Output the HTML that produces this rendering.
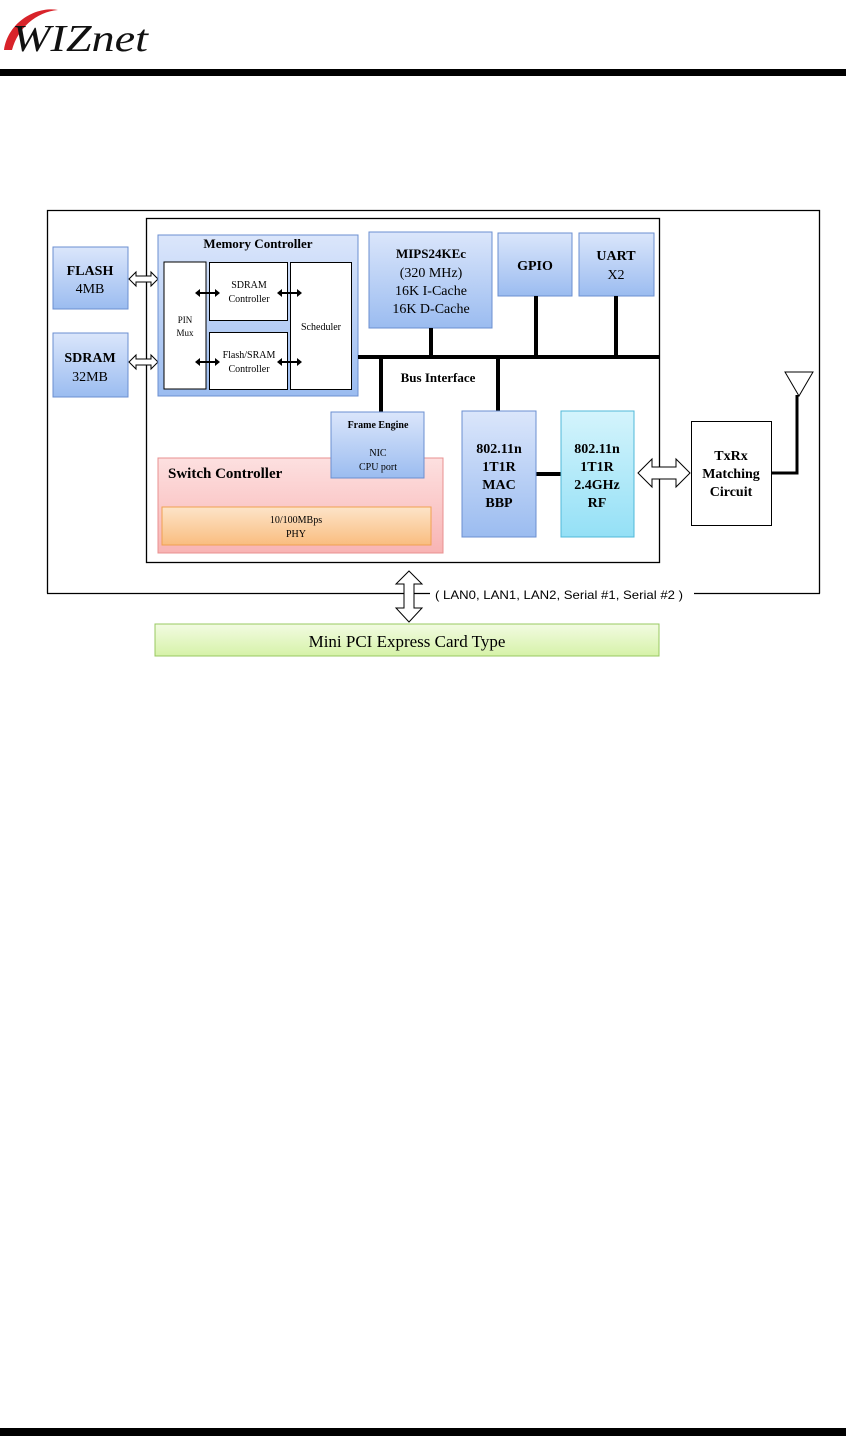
<!DOCTYPE html>
<html><head><style>
body{margin:0;background:#fff;}
svg{display:block;}
text{font-family:"Liberation Serif",serif;}
</style></head><body>
<svg width="846" height="1436" viewBox="0 0 846 1436" xmlns="http://www.w3.org/2000/svg">
<defs>
<linearGradient id="blue" x1="0" y1="0" x2="0" y2="1"><stop offset="0" stop-color="#dbe6fb"/><stop offset="1" stop-color="#9bbcf0"/></linearGradient>
<linearGradient id="cyan" x1="0" y1="0" x2="0" y2="1"><stop offset="0" stop-color="#d4f4fc"/><stop offset="1" stop-color="#94e0f6"/></linearGradient>
<linearGradient id="pink" x1="0" y1="0" x2="0" y2="1"><stop offset="0" stop-color="#fde0e0"/><stop offset="1" stop-color="#f8b4b4"/></linearGradient>
<linearGradient id="orng" x1="0" y1="0" x2="0" y2="1"><stop offset="0" stop-color="#fde4c8"/><stop offset="1" stop-color="#f9bd80"/></linearGradient>
<linearGradient id="grn" x1="0" y1="0" x2="0" y2="1"><stop offset="0" stop-color="#f2fbe2"/><stop offset="1" stop-color="#d6f2a8"/></linearGradient>
</defs>
<!-- header -->
<path d="M4,50 C8,22 36,6 58,10 C36,12 18,28 12,50 Z" fill="#d8232a"/>
<text x="12" y="51" font-size="38" font-style="italic" fill="#111" textLength="136" lengthAdjust="spacingAndGlyphs">WIZnet</text>
<rect x="0" y="69" width="846" height="7" fill="#000"/>
<rect x="0" y="1428" width="846" height="8" fill="#000"/>

<!-- outer boxes -->
<polyline points="47.5,593.5 47.5,210.5 819.5,210.5 819.5,593.5" fill="none" stroke="#000" stroke-width="1.3"/>
<line x1="47" y1="593.5" x2="430" y2="593.5" stroke="#000" stroke-width="1.3"/>
<line x1="694" y1="593.5" x2="820" y2="593.5" stroke="#000" stroke-width="1.3"/>
<rect x="146.5" y="218.5" width="513" height="344" fill="#fff" stroke="#000" stroke-width="1.3"/>

<!-- FLASH / SDRAM -->
<rect x="53" y="247" width="75" height="62" fill="url(#blue)" stroke="#6b8fd0"/>
<text x="90" y="275" font-size="14" font-weight="bold" text-anchor="middle">FLASH</text>
<text x="90" y="293" font-size="14" text-anchor="middle">4MB</text>
<rect x="53" y="333" width="75" height="64" fill="url(#blue)" stroke="#6b8fd0"/>
<text x="90" y="362" font-size="14" font-weight="bold" text-anchor="middle">SDRAM</text>
<text x="90" y="381" font-size="14" text-anchor="middle">32MB</text>
<path d="M129,279 L136,272 L136,276 L151,276 L151,272 L158,279 L151,286 L151,282 L136,282 L136,286 Z" fill="#fff" stroke="#000"/>
<path d="M129,362 L136,355 L136,359 L151,359 L151,355 L158,362 L151,369 L151,365 L136,365 L136,369 Z" fill="#fff" stroke="#000"/>

<!-- Memory controller -->
<rect x="158" y="235" width="200" height="161" fill="url(#blue)" stroke="#6b8fd0"/>
<text x="258" y="248" font-size="13" font-weight="bold" text-anchor="middle">Memory Controller</text>
<rect x="164" y="262" width="42" height="127" fill="#fff" stroke="#000"/>
<text x="185" y="323" font-size="9" text-anchor="middle">PIN</text>
<text x="185" y="336" font-size="9" text-anchor="middle">Mux</text>
<rect x="209.5" y="262.5" width="78" height="58" fill="#fff" stroke="#000"/>
<text x="249" y="288" font-size="10" text-anchor="middle">SDRAM</text>
<text x="249" y="302" font-size="10" text-anchor="middle">Controller</text>
<rect x="209.5" y="332.5" width="78" height="57" fill="#fff" stroke="#000"/>
<text x="249" y="358" font-size="10" text-anchor="middle">Flash/SRAM</text>
<text x="249" y="372" font-size="10" text-anchor="middle">Controller</text>
<rect x="290.5" y="262.5" width="61" height="127" fill="#fff" stroke="#000"/>
<text x="321" y="330" font-size="10" text-anchor="middle">Scheduler</text>
<g stroke="#000" stroke-width="2">
<line x1="199" y1="293" x2="216" y2="293"/><line x1="281" y1="293" x2="298" y2="293"/>
<line x1="199" y1="362" x2="216" y2="362"/><line x1="281" y1="362" x2="298" y2="362"/>
</g>
<g fill="#000">
<path d="M195,293 l5,-4 v8z"/><path d="M220,293 l-5,-4 v8z"/><path d="M277,293 l5,-4 v8z"/><path d="M302,293 l-5,-4 v8z"/>
<path d="M195,362 l5,-4 v8z"/><path d="M220,362 l-5,-4 v8z"/><path d="M277,362 l5,-4 v8z"/><path d="M302,362 l-5,-4 v8z"/>
</g>

<!-- MIPS, GPIO, UART -->
<rect x="369" y="232" width="123" height="96" fill="url(#blue)" stroke="#6b8fd0"/>
<text x="431" y="258" font-size="13" font-weight="bold" text-anchor="middle">MIPS24KEc</text>
<text x="431" y="277" font-size="14" text-anchor="middle">(320 MHz)</text>
<text x="431" y="295" font-size="14" text-anchor="middle">16K I-Cache</text>
<text x="431" y="313" font-size="14" text-anchor="middle">16K D-Cache</text>
<rect x="498" y="233" width="74" height="63" fill="url(#blue)" stroke="#6b8fd0"/>
<text x="535" y="270" font-size="14" font-weight="bold" text-anchor="middle">GPIO</text>
<rect x="579" y="233" width="75" height="63" fill="url(#blue)" stroke="#6b8fd0"/>
<text x="616" y="260" font-size="14" font-weight="bold" text-anchor="middle">UART</text>
<text x="616" y="279" font-size="14" text-anchor="middle">X2</text>

<!-- bus -->
<g stroke="#000" stroke-width="4">
<line x1="358" y1="357" x2="659" y2="357"/>
<line x1="431" y1="328" x2="431" y2="357"/>
<line x1="536" y1="296" x2="536" y2="357"/>
<line x1="616" y1="296" x2="616" y2="357"/>
<line x1="381" y1="357" x2="381" y2="412"/>
<line x1="498" y1="357" x2="498" y2="411"/>
<line x1="536" y1="474" x2="561" y2="474"/>
</g>
<text x="438" y="382" font-size="13" font-weight="bold" text-anchor="middle">Bus Interface</text>

<!-- Switch controller -->
<rect x="158" y="458" width="285" height="95" fill="url(#pink)" stroke="#e89090"/>
<text x="168" y="478" font-size="15" font-weight="bold">Switch Controller</text>
<rect x="162" y="507" width="269" height="38" fill="url(#orng)" stroke="#f0a050"/>
<text x="296" y="523" font-size="10" text-anchor="middle">10/100MBps</text>
<text x="296" y="537" font-size="10" text-anchor="middle">PHY</text>
<rect x="331" y="412" width="93" height="66" fill="url(#blue)" stroke="#6b8fd0"/>
<text x="378" y="428" font-size="10" font-weight="bold" text-anchor="middle">Frame Engine</text>
<text x="378" y="456" font-size="10" text-anchor="middle">NIC</text>
<text x="378" y="470" font-size="10" text-anchor="middle">CPU port</text>

<!-- MAC / RF -->
<rect x="462" y="411" width="74" height="126" fill="url(#blue)" stroke="#6b8fd0"/>
<g font-size="14" font-weight="bold" text-anchor="middle">
<text x="499" y="453">802.11n</text><text x="499" y="471">1T1R</text><text x="499" y="489">MAC</text><text x="499" y="507">BBP</text>
</g>
<rect x="561" y="411" width="73" height="126" fill="url(#cyan)" stroke="#50b8d8"/>
<g font-size="14" font-weight="bold" text-anchor="middle">
<text x="597" y="453">802.11n</text><text x="597" y="471">1T1R</text><text x="597" y="489">2.4GHz</text><text x="597" y="507">RF</text>
</g>
<path d="M638,473 L652,459 L652,467 L676,467 L676,459 L690,473 L676,487 L676,479 L652,479 L652,487 Z" fill="#fff" stroke="#000"/>

<!-- TxRx -->
<rect x="691.5" y="421.5" width="80" height="104" fill="#fff" stroke="#000"/>
<g font-size="14" font-weight="bold" text-anchor="middle">
<text x="731" y="460">TxRx</text><text x="731" y="478">Matching</text><text x="731" y="496">Circuit</text>
</g>
<polyline points="772,473 797,473 797,395" fill="none" stroke="#000" stroke-width="3"/>
<path d="M785,372 L813,372 L799,396 Z" fill="#fff" stroke="#000"/>

<!-- bottom -->
<path d="M409,571 L422,584 L414,584 L414,608 L422,608 L409,622 L396,608 L404,608 L404,584 L396,584 Z" fill="#fff" stroke="#000"/>
<text x="435" y="599" font-size="12" style="font-family:'Liberation Sans',sans-serif" textLength="248" lengthAdjust="spacingAndGlyphs">( LAN0, LAN1, LAN2, Serial #1, Serial #2 )</text>
<rect x="155" y="624" width="504" height="32" fill="url(#grn)" stroke="#98c860"/>
<text x="407" y="647" font-size="17" text-anchor="middle">Mini PCI Express Card Type</text>
</svg>
</body></html>
